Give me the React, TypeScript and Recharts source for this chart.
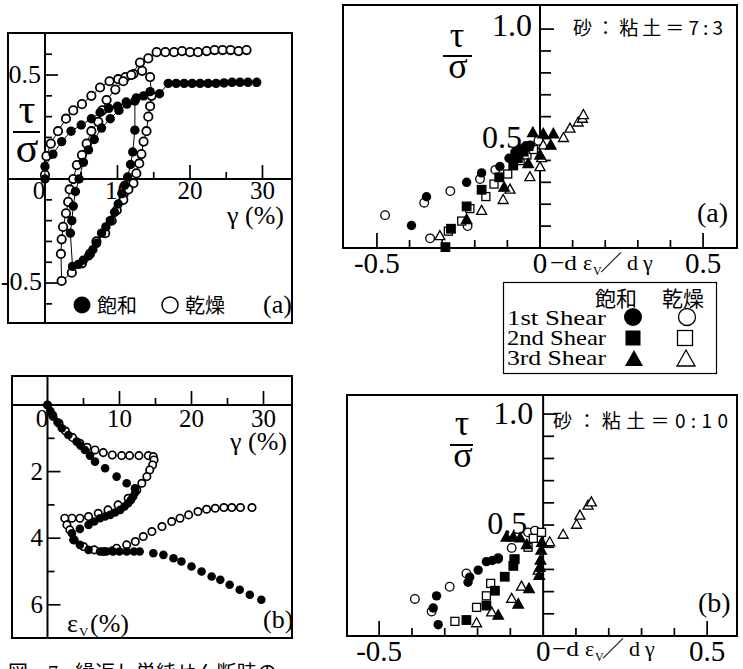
import React from 'react';
import { ScatterChart, Scatter, XAxis, YAxis, ReferenceLine, ReferenceArea } from 'recharts';

// ---------- Panel (a) left: tau/sigma vs gamma ----------
const satA: number[][] = [
  [0, 0], [0, 0.06], [1.1, 0.12], [2.3, 0.18], [3.6, 0.23], [5.0, 0.26], [6.4, 0.29], [7.6, 0.32], [8.8, 0.34], [10.0, 0.35], [11.2, 0.37], [12.4, 0.375],
  [12.4, 0.235], [12.1, 0.13], [11.8, 0.07], [11.4, 0.01], [11.0, -0.03], [10.6, -0.07], [10.1, -0.12], [9.6, -0.16], [9.0, -0.2], [8.4, -0.23], [7.8, -0.26], [7.1, -0.31], [6.6, -0.34], [6.0, -0.37], [5.3, -0.39], [4.6, -0.41], [3.8, -0.42],
  [3.5, -0.26], [3.7, -0.2], [3.9, -0.13], [4.2, -0.06], [4.7, 0.0], [5.3, 0.08], [6.0, 0.14], [6.8, 0.19], [7.8, 0.245], [9.0, 0.29], [10.2, 0.33], [11.3, 0.36], [12.6, 0.39], [13.6, 0.4], [14.5, 0.42], [15.8, 0.41],
  [17.0, 0.46], [18.1, 0.46], [19.2, 0.46], [20.3, 0.46], [21.4, 0.46], [22.5, 0.46], [23.6, 0.46], [24.7, 0.462], [25.8, 0.465], [26.9, 0.465], [28.0, 0.465], [29.2, 0.465],
];
const dryA: number[][] = [
  [0, 0.02], [0.2, 0.11], [0.8, 0.17], [1.8, 0.23], [2.9, 0.29], [3.9, 0.33], [5.1, 0.36], [6.4, 0.4], [7.6, 0.44], [8.9, 0.47], [10.1, 0.48], [11.1, 0.49], [12.2, 0.505], [13.4, 0.52], [14.5, 0.49],
  [14.7, 0.4], [14.5, 0.35], [14.25, 0.3], [14.0, 0.23], [13.6, 0.18], [13.3, 0.12], [13.0, 0.075], [12.6, 0.027], [12.2, -0.02], [11.5, -0.05], [10.8, -0.1], [9.9, -0.15], [9.2, -0.2], [8.3, -0.26], [7.1, -0.3], [6.2, -0.36], [5.1, -0.405], [3.7, -0.45], [2.3, -0.49],
  [2.2, -0.36], [2.3, -0.29], [2.5, -0.23], [2.9, -0.165], [3.2, -0.11], [3.4, -0.05], [3.9, 0.0], [4.4, 0.067], [5.1, 0.115], [5.75, 0.17], [6.4, 0.23], [7.35, 0.275], [7.9, 0.33], [8.5, 0.38], [9.7, 0.43], [10.8, 0.47], [11.9, 0.5], [13.1, 0.56], [14.25, 0.58],
  [15.4, 0.61], [16.6, 0.61], [17.8, 0.61], [18.9, 0.615], [20.0, 0.61], [21.1, 0.61], [22.3, 0.615], [23.4, 0.62], [24.5, 0.62], [25.6, 0.62], [26.7, 0.615], [27.8, 0.62],
];
const aXMajor = [10, 20, 30];
const aXMinor = [5, 15, 25];
const aYMajor = [0.5, -0.5];
const aYMinor = [0.6, 0.4, 0.3, 0.2, 0.1, -0.1, -0.2, -0.3, -0.4, -0.6];
const aXLabels = [0, 10, 20, 30];
const aYLabels = [0.5, -0.5];

// ---------- Panel (b) left: epsilon_v vs gamma ----------
const satB: number[][] = [
  [0, 0], [0.4, 0.18], [0.8, 0.35], [1.4, 0.52], [2.0, 0.7], [2.9, 0.9], [4.05, 1.1], [4.6, 1.22], [5.2, 1.35], [5.9, 1.52], [6.6, 1.7], [8.0, 1.9], [9.6, 2.15], [11.0, 2.35], [12.15, 2.5],
  [12.2, 2.62], [11.9, 2.75], [11.6, 2.85], [11.2, 2.95], [10.7, 3.05], [10.1, 3.15], [9.4, 3.23], [8.7, 3.3], [8.0, 3.35], [7.3, 3.4], [6.5, 3.5], [5.7, 3.6], [4.5, 3.72], [3.4, 3.85],
  [3.6, 4.05], [4.5, 4.2], [5.7, 4.35], [7.3, 4.4], [8.2, 4.4], [9.1, 4.4], [10.0, 4.4], [11.0, 4.4], [12.0, 4.4], [12.8, 4.4], [14.7, 4.45], [16.1, 4.5], [17.5, 4.6], [18.6, 4.7], [20.0, 4.85], [21.4, 5.0], [22.8, 5.15], [24.0, 5.25], [25.3, 5.4], [26.7, 5.55], [28.1, 5.7], [29.7, 5.85],
];
const dryB: number[][] = [
  [0, 0], [0.7, 0.3], [1.6, 0.55], [2.5, 0.78], [3.5, 0.98], [4.5, 1.15], [5.5, 1.27], [6.6, 1.35], [7.75, 1.43], [9.0, 1.5], [10.3, 1.52], [11.4, 1.52], [12.7, 1.52], [14.0, 1.52], [14.7, 1.55],
  [14.8, 1.65], [14.6, 1.8], [14.2, 1.95], [13.8, 2.15], [13.1, 2.35], [12.4, 2.55], [11.2, 2.8], [9.8, 3.0], [8.4, 3.15], [7.05, 3.25], [5.7, 3.35], [4.5, 3.4], [3.4, 3.4], [2.4, 3.4],
  [2.7, 3.6], [3.1, 3.75], [3.7, 4.05], [5.0, 4.25], [6.5, 4.35], [7.8, 4.4], [9.0, 4.38], [9.6, 4.3], [11.0, 4.2], [12.2, 4.1], [13.3, 3.95], [14.5, 3.8], [15.9, 3.65], [17.25, 3.5], [18.4, 3.4], [19.6, 3.3], [20.9, 3.2], [22.1, 3.13], [23.3, 3.1], [24.5, 3.08], [25.6, 3.08], [26.8, 3.08], [28.4, 3.08],
];
const bXMajor = [10, 20, 30];
const bXMinor = [5, 15, 25];
const bYMajor = [2, 4, 6];
const bYMinor = [1, 3, 5];
const bXLabels = [0, 10, 20, 30];
const bYLabels = [2, 4, 6];

// ---------- Right (a): sand:clay = 7:3 ----------
const cSat1: number[][] = [[-0.394, 0.103], [-0.348, 0.234], [-0.225, 0.3], [-0.179, 0.343], [-0.123, 0.372], [-0.095, 0.41], [-0.077, 0.438], [-0.061, 0.453], [-0.045, 0.465], [-0.03, 0.47]];
const cDry1: number[][] = [[-0.475, 0.15], [-0.355, 0.207], [-0.275, 0.26], [-0.184, 0.315], [-0.137, 0.357], [-0.337, 0.044], [-0.222, 0.1], [-0.005, 0.49], [-0.03, 0.46]];
const cSat2: number[][] = [[-0.29, 0.004], [-0.273, 0.088], [-0.225, 0.19], [-0.179, 0.266], [-0.125, 0.323], [-0.082, 0.377], [-0.068, 0.41], [-0.05, 0.44], [-0.035, 0.465]];
const cDry2: number[][] = [[-0.281, 0.077], [-0.24, 0.123], [-0.215, 0.18], [-0.166, 0.235], [-0.141, 0.292], [-0.099, 0.338], [-0.061, 0.399], [-0.04, 0.425], [-0.02, 0.45]];
const cSat3: number[][] = [[-0.225, 0.128], [-0.11, 0.276], [-0.036, 0.384], [0.0, 0.423], [0.033, 0.468], [-0.022, 0.525], [0.01, 0.52], [0.041, 0.52]];
const cDry3: number[][] = [[-0.307, 0.054], [-0.179, 0.169], [-0.113, 0.219], [-0.092, 0.266], [-0.031, 0.323], [0.0, 0.369], [0.005, 0.41], [0.01, 0.468], [0.072, 0.502], [0.092, 0.545], [0.117, 0.573], [0.13, 0.59], [0.133, 0.607]];

// ---------- Right (b): sand:clay = 0:10 ----------
const dSat1: number[][] = [[-0.32, 0.051], [-0.335, 0.126], [-0.325, 0.181], [-0.229, 0.242], [-0.224, 0.265], [-0.198, 0.297], [-0.173, 0.335], [-0.155, 0.34], [-0.137, 0.347]];
const dDry1: number[][] = [[-0.391, 0.167], [-0.34, 0.11], [-0.285, 0.222], [-0.234, 0.282], [-0.137, 0.351], [-0.096, 0.397], [-0.046, 0.467], [-0.025, 0.475]];
const dSat2: number[][] = [[-0.234, 0.072], [-0.173, 0.137], [-0.147, 0.204], [-0.117, 0.267], [-0.091, 0.316], [-0.088, 0.345]];
const dDry2: number[][] = [[-0.269, 0.066], [-0.203, 0.129], [-0.173, 0.181], [-0.16, 0.237], [-0.086, 0.347], [-0.046, 0.4], [-0.03, 0.44], [-0.005, 0.467]];
const dSat3: number[][] = [[-0.137, 0.092], [-0.076, 0.142], [-0.043, 0.212], [-0.012, 0.272], [-0.01, 0.307], [-0.008, 0.34], [-0.006, 0.385], [-0.004, 0.42], [-0.091, 0.444], [-0.112, 0.444], [-0.07, 0.44], [-0.05, 0.41]];
const dDry3: number[][] = [[-0.203, 0.057], [-0.157, 0.106], [-0.096, 0.167], [-0.066, 0.222], [-0.015, 0.294], [0.02, 0.422], [0.061, 0.456], [0.102, 0.501], [0.112, 0.542], [0.137, 0.587], [0.147, 0.602]];

const rXMajor = [-0.5, 0.5];
const rXMinor = [-0.4, -0.3, -0.2, -0.1, 0.1, 0.2, 0.3, 0.4];
const rYMajor = [1.0];
const rYMinor = [0.1, 0.2, 0.3, 0.4, 0.5, 0.6, 0.7, 0.8, 0.9];
const rXLabels = [-0.5, 0, 0.5];
const rYLabels = [1.0, 0.5];

// ---------- helpers ----------
const SERIF = 'Liberation Serif, Times New Roman, Times, serif';
const CJK = 'Noto Sans CJK JP, Noto Sans CJK SC, sans-serif';
const serifStyle = { fontFamily: SERIF } as const;
const cjkStyle = { fontFamily: CJK } as const;

const pts = (a: number[][]) => a.map(([x, y]) => ({ x, y }));
const onX = (v: number[]) => v.map((x) => ({ x, y: 0 }));
const onY = (v: number[]) => v.map((y) => ({ x: 0, y }));

const dotFill = (r: number) => (p: any) => <circle cx={p.cx} cy={p.cy} r={r} fill="#000" />;
const dotOpen = (r: number, w = 1.4) => (p: any) => (
  <circle cx={p.cx} cy={p.cy} r={r} fill="#fff" stroke="#000" strokeWidth={w} />
);
const sq = (s: number, filled: boolean) => (p: any) => (
  <rect x={p.cx - s / 2} y={p.cy - s / 2} width={s} height={s} fill={filled ? '#000' : '#fff'} stroke="#000" strokeWidth={1.3} />
);
const tri = (s: number, filled: boolean) => (p: any) => {
  const h = s * 0.9;
  return (
    <polygon
      points={`${p.cx},${p.cy - h * 0.62} ${p.cx - s / 2},${p.cy + h * 0.38} ${p.cx + s / 2},${p.cy + h * 0.38}`}
      fill={filled ? '#000' : '#fff'}
      stroke="#000"
      strokeWidth={1.3}
    />
  );
};
const tick = (dx: number, dy: number) => (p: any) => (
  <line x1={p.cx} y1={p.cy} x2={p.cx + dx} y2={p.cy + dy} stroke="#000" strokeWidth={1.7} />
);
const label = (
  fmt: (v: number) => string,
  axis: 'x' | 'y',
  size: number,
  anchor: string,
  off: (v: number) => [number, number]
) => (p: any) => {
  const v = axis === 'x' ? p.payload.x : p.payload.y;
  const [dx, dy] = off(v);
  return (
    <text x={p.cx + dx} y={p.cy + dy} fontSize={size} textAnchor={anchor} style={serifStyle} fill="#000">
      {fmt(v)}
    </text>
  );
};

const NA = false;

function PanelA() {
  const xd: [number, number] = [-5.1, 34.07];
  const yd: [number, number] = [-0.692, 0.702];
  return (
    <ScatterChart width={300} height={340} margin={{ top: 33, right: 8, bottom: 17, left: 8 }}>
      <XAxis type="number" dataKey="x" domain={xd} hide />
      <YAxis type="number" dataKey="y" domain={yd} hide />
      <ReferenceArea x1={xd[0]} x2={xd[1]} y1={yd[0]} y2={yd[1]} fill="none" stroke="#000" strokeWidth={2} />
      <ReferenceLine x={0} stroke="#000" strokeWidth={2} />
      <ReferenceLine y={0} stroke="#000" strokeWidth={2} />
      <Scatter data={onX(aXMajor)} shape={tick(0, -14)} isAnimationActive={NA} />
      <Scatter data={onX(aXMinor)} shape={tick(0, -7)} isAnimationActive={NA} />
      <Scatter data={onY(aYMajor)} shape={tick(13, 0)} isAnimationActive={NA} />
      <Scatter data={onY(aYMinor)} shape={tick(7, 0)} isAnimationActive={NA} />
      <Scatter data={onX(aXLabels)} shape={label((v) => String(v), 'x', 25, 'middle', (v) => [v === 0 ? -6 : 0, 20])} isAnimationActive={NA} />
      <Scatter data={onY(aYLabels)} shape={label((v) => String(v), 'y', 26, 'end', (v) => (v > 0 ? [-4, 8] : [-3, 7]))} isAnimationActive={NA} />
      <Scatter data={pts(dryA)} line={{ stroke: '#000', strokeWidth: 1 }} shape={dotOpen(4.2, 1.8)} isAnimationActive={NA} />
      <Scatter data={pts(satA)} line={{ stroke: '#000', strokeWidth: 1 }} shape={dotFill(4.7)} isAnimationActive={NA} />
    </ScatterChart>
  );
}

function PanelB() {
  const xd: [number, number] = [-4.93, 33.96];
  const yd: [number, number] = [-0.871, 6.997];
  return (
    <ScatterChart width={300} height={329} margin={{ top: 36, right: 8, bottom: 31, left: 12 }}>
      <XAxis type="number" dataKey="x" domain={xd} hide />
      <YAxis type="number" dataKey="y" domain={yd} hide reversed />
      <ReferenceArea x1={xd[0]} x2={xd[1]} y1={yd[0]} y2={yd[1]} fill="none" stroke="#000" strokeWidth={2} />
      <ReferenceLine x={0} stroke="#000" strokeWidth={2} />
      <ReferenceLine y={0} stroke="#000" strokeWidth={2} />
      <Scatter data={onX(bXMajor)} shape={tick(0, -14)} isAnimationActive={NA} />
      <Scatter data={onX(bXMinor)} shape={tick(0, -7)} isAnimationActive={NA} />
      <Scatter data={onY(bYMajor)} shape={tick(13, 0)} isAnimationActive={NA} />
      <Scatter data={onY(bYMinor)} shape={tick(7, 0)} isAnimationActive={NA} />
      <Scatter data={onX(bXLabels)} shape={label((v) => String(v), 'x', 25, 'middle', (v) => [v === 0 ? -5.5 : 0, 22])} isAnimationActive={NA} />
      <Scatter data={onY(bYLabels)} shape={label((v) => String(v), 'y', 25, 'end', () => [-4.5, 8])} isAnimationActive={NA} />
      <Scatter data={pts(dryB)} shape={dotOpen(3.7, 1.7)} isAnimationActive={NA} />
      <Scatter data={pts(satB)} shape={dotFill(4.3)} isAnimationActive={NA} />
    </ScatterChart>
  );
}

function RightPanel(props: {
  w: number; h: number; margin: any; xd: [number, number]; yd: [number, number];
  s1: number[][]; d1: number[][]; s2: number[][]; d2: number[][]; s3: number[][]; d3: number[][];
  yOff: (v: number) => [number, number];
}) {
  const { xd, yd } = props;
  return (
    <ScatterChart width={props.w} height={props.h} margin={props.margin}>
      <XAxis type="number" dataKey="x" domain={xd} hide />
      <YAxis type="number" dataKey="y" domain={yd} hide />
      <ReferenceArea x1={xd[0]} x2={xd[1]} y1={yd[0]} y2={yd[1]} fill="none" stroke="#000" strokeWidth={2} />
      <ReferenceLine x={0} stroke="#000" strokeWidth={2} />
      <Scatter data={onX(rXMajor)} shape={tick(0, -15)} isAnimationActive={NA} />
      <Scatter data={onX(rXMinor)} shape={tick(0, -8)} isAnimationActive={NA} />
      <Scatter data={onY(rYMajor)} shape={tick(14, 0)} isAnimationActive={NA} />
      <Scatter data={onY(rYMinor)} shape={tick(11, 0)} isAnimationActive={NA} />
      <Scatter data={onX(rXLabels)} shape={label((v) => (v === 0 ? '0' : v.toFixed(1)), 'x', 29, 'middle', () => [0, 25])} isAnimationActive={NA} />
      <Scatter data={onY(rYLabels)} shape={label((v) => v.toFixed(1), 'y', 32, 'end', props.yOff)} isAnimationActive={NA} />
      <Scatter data={pts(props.d1)} shape={dotOpen(4.3, 1.3)} isAnimationActive={NA} />
      <Scatter data={pts(props.d2)} shape={sq(8, false)} isAnimationActive={NA} />
      <Scatter data={pts(props.d3)} shape={tri(10, false)} isAnimationActive={NA} />
      <Scatter data={pts(props.s1)} shape={dotFill(4.7)} isAnimationActive={NA} />
      <Scatter data={pts(props.s2)} shape={sq(8.5, true)} isAnimationActive={NA} />
      <Scatter data={pts(props.s3)} shape={tri(10.5, true)} isAnimationActive={NA} />
    </ScatterChart>
  );
}

function DeLabel({ x, y }: { x: number; y: number }) {
  return (
    <g fill="#000" style={serifStyle}>
      <text x={x} y={y} fontSize={22} textLength={27} lengthAdjust="spacingAndGlyphs">−d</text>
      <text x={x + 33} y={y} fontSize={22}>ε</text>
      <text x={x + 43} y={y + 5} fontSize={12}>V</text>
      <text x={x + 50} y={y} fontSize={22} style={cjkStyle}>／</text>
      <text x={x + 77} y={y} fontSize={22}>d</text>
      <text x={x + 93} y={y} fontSize={22}>γ</text>
    </g>
  );
}

function Overlay() {
  return (
    <svg width={743} height={669} style={{ position: 'absolute', left: 0, top: 0 }}>
      {/* panel (a) left */}
      <g fill="#000" style={serifStyle}>
        <text x={27} y={123} fontSize={42} textAnchor="middle">τ</text>
        <line x1={13} x2={40} y1={132} y2={132} stroke="#000" strokeWidth={2} />
        <text x={27} y={162} fontSize={42} textAnchor="middle">σ</text>
        <text x={227} y={224} fontSize={26}>γ (%)</text>
        <circle cx={82} cy={305} r={8.5} fill="#000" />
        <text x={97} y={313} fontSize={20} style={cjkStyle}>飽和</text>
        <circle cx={170} cy={305} r={8} fill="#fff" stroke="#000" strokeWidth={1.5} />
        <text x={185} y={313} fontSize={20} style={cjkStyle}>乾燥</text>
        <text x={263} y={313} fontSize={26}>(a)</text>
      </g>
      {/* panel (b) left */}
      <g fill="#000" style={serifStyle}>
        <text x={230} y={450} fontSize={26}>γ (%)</text>
        <text x={67} y={632} fontSize={26}>ε</text>
        <text x={79} y={636} fontSize={13}>V</text>
        <text x={90} y={632} fontSize={26}>(%)</text>
        <text x={263} y={628} fontSize={26}>(b)</text>
      </g>
      {/* right (a) */}
      <g fill="#000" style={serifStyle}>
        <text x={457} y={47} fontSize={36} textAnchor="middle">τ</text>
        <line x1={443} x2={472} y1={56} y2={56} stroke="#000" strokeWidth={2} />
        <text x={458} y={78} fontSize={36} textAnchor="middle">σ</text>
        <text x={573} y={35} fontSize={19} style={cjkStyle} textLength={150}>砂：粘土＝7:3</text>
        <text x={697} y={222} fontSize={28}>(a)</text>
      </g>
      <DeLabel x={550} y={270} />
      {/* legend */}
      <g fill="#000" style={serifStyle}>
        <rect x={503.5} y={282.5} width={213} height={91} fill="#fff" stroke="#000" strokeWidth={1.2} />
        <text x={595} y={306} fontSize={21} style={cjkStyle}>飽和</text>
        <text x={662} y={306} fontSize={21} style={cjkStyle}>乾燥</text>
        <text x={507} y={325} fontSize={22} textLength={99} lengthAdjust="spacingAndGlyphs">1st  Shear</text>
        <text x={507} y={345} fontSize={22} textLength={99} lengthAdjust="spacingAndGlyphs">2nd Shear</text>
        <text x={507} y={365} fontSize={22} textLength={99} lengthAdjust="spacingAndGlyphs">3rd Shear</text>
        <circle cx={633} cy={317} r={9} fill="#000" />
        <circle cx={687} cy={317} r={8.5} fill="#fff" stroke="#000" strokeWidth={1.3} />
        <rect x={625.5} y={330.5} width={15} height={15} fill="#000" />
        <rect x={677.5} y={330.5} width={15} height={15} fill="#fff" stroke="#000" strokeWidth={1.3} />
        <polygon points="634,350 625,366 643,366" fill="#000" />
        <polygon points="686,350 677,366 695,366" fill="#fff" stroke="#000" strokeWidth={1.3} />
      </g>
      {/* right (b) */}
      <g fill="#000" style={serifStyle}>
        <text x={462} y={435} fontSize={36} textAnchor="middle">τ</text>
        <line x1={450} x2={473} y1={445} y2={445} stroke="#000" strokeWidth={2} />
        <text x={463} y={467} fontSize={36} textAnchor="middle">σ</text>
        <text x={553} y={428} fontSize={19} style={cjkStyle} textLength={175}>砂：粘土＝0:10</text>
        <text x={698} y={612} fontSize={28}>(b)</text>
      </g>
      <DeLabel x={552} y={656} />
      {/* caption (cut off at the bottom edge, as in the source) */}
      <g fill="#000" fontSize={20} style={cjkStyle}>
        <text x={8} y={680}>図</text>
        <text x={48} y={680} style={serifStyle}>7</text>
        <text x={75} y={680} textLength={202}>繰返し単純せん断時の</text>
      </g>
    </svg>
  );
}

export default function App() {
  return (
    <div style={{ position: 'absolute', left: 0, top: 0, width: 743, height: 669, overflow: 'hidden', background: '#fff' }}>
      <div style={{ position: 'absolute', left: 0, top: 0 }}>
        <PanelA />
      </div>
      <div style={{ position: 'absolute', left: 0, top: 340 }}>
        <PanelB />
      </div>
      <div style={{ position: 'absolute', left: 300, top: 0 }}>
        <RightPanel
          w={443} h={280} margin={{ top: 5, right: 6, bottom: 32, left: 43 }}
          xd={[-0.604, 0.604]} yd={[0, 1.11]}
          s1={cSat1} d1={cDry1} s2={cSat2} d2={cDry2} s3={cSat3} d3={cDry3}
          yOff={(v) => (v > 0.75 ? [-8, 7] : [-18, 9.5])}
        />
      </div>
      <div style={{ position: 'absolute', left: 300, top: 380 }}>
        <RightPanel
          w={443} h={289} margin={{ top: 15, right: 6, bottom: 33, left: 47 }}
          xd={[-0.598, 0.591]} yd={[0, 1.086]}
          s1={dSat1} d1={dDry1} s2={dSat2} d2={dDry2} s3={dSat3} d3={dDry3}
          yOff={(v) => (v > 0.75 ? [-10, 10] : [-16, 9])}
        />
      </div>
      <Overlay />
    </div>
  );
}
